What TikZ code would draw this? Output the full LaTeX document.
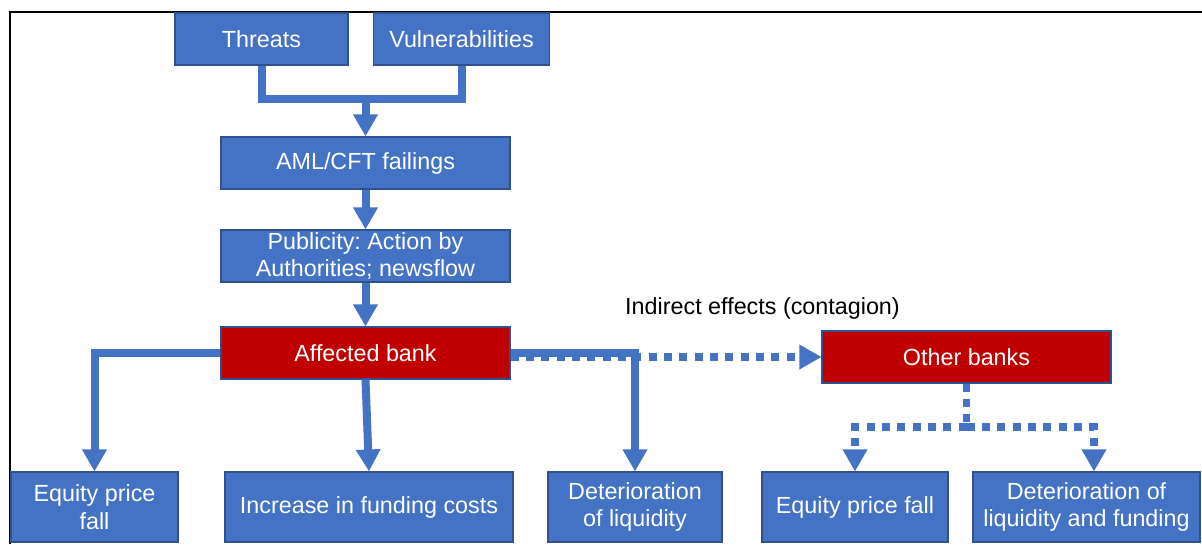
\documentclass[tikz,border=0pt]{standalone}
\usepackage{fontspec}
\setmainfont{Liberation Sans}
\usetikzlibrary{arrows.meta}

\definecolor{boxblue}{HTML}{4472C4}
\definecolor{boxred}{HTML}{C00000}
\definecolor{boxedge}{HTML}{2F528F}

\begin{document}
\frenchspacing
\begin{tikzpicture}[
    x=0.75pt, y=-0.75pt,
    every node/.style={font=\fontsize{17.5}{20.5}\selectfont},
    blueBox/.style={rectangle, draw=boxedge, line width=0.8pt, fill=boxblue, text=white, align=center, inner sep=0pt, minimum height=39pt},
    redBox/.style={blueBox, fill=boxred},
    lowBox/.style={blueBox, minimum height=52.5pt},
    pipe/.style={draw=boxblue, line width=6pt},
    arrow/.style={pipe, -{Triangle[length=16.5pt, width=17.5pt]}},
    dotarrow/.style={arrow, dash pattern=on 6pt off 5.5pt, line width=5.5pt},
    dotpipe/.style={pipe, dash pattern=on 6pt off 5.5pt, line width=5.5pt},
    label/.style={text=black}
]
    \useasboundingbox (0,0) rectangle (1202,544);

% -------------------------
% Frame
% -------------------------
    \draw[black, line width=1.5pt] (10,544) -- (10,12) -- (1202,12);

% -------------------------
% Nodes - Causes
% -------------------------
    \node[blueBox, minimum width=129.75pt] (thr) at (261.5,39) {Threats};
    \node[blueBox, minimum width=132pt] (vul) at (461.5,39) {Vulnerabilities};
    \node[blueBox, minimum width=216.75pt] (aml) at (365.5,163) {AML/CFT failings};
    \node[blueBox, minimum width=216.75pt] (pub) at (365.5,256) {Publicity: Action by\\Authorities; newsflow};

% -------------------------
% Nodes - Banks
% -------------------------
    \node[redBox, minimum width=216.75pt] (aff) at (365.5,353) {Affected bank};
    \node[redBox, minimum width=216.75pt] (oth) at (966.5,357) {Other banks};
    \node[label] (ind) at (762.5,308) {Indirect effects (contagion)};

% -------------------------
% Nodes - Effects
% -------------------------
    \node[lowBox, minimum width=125.25pt] (eq1) at (94.5,507) {Equity price\\fall};
    \node[lowBox, minimum width=216pt] (inc) at (369,507) {Increase in funding costs};
    \node[lowBox, minimum width=130.5pt] (liq) at (635,507) {Deterioration\\of liquidity};
    \node[lowBox, minimum width=139.5pt] (eq2) at (855,507) {Equity price fall};
    \node[lowBox, minimum width=170.25pt] (liqfund) at (1086.5,507) {Deterioration of\\liquidity and funding};

% -------------------------
% Arrows & Routing
% -------------------------
    % Threats and vulnerabilities join above AML/CFT
    \coordinate (join) at (365.5,99);
    \draw[pipe] (thr.south) |- (join) -| (vul.south);
    \draw[arrow] (join) -- (aml.north);
    \draw[arrow] (aml) -- (pub);
    \draw[arrow] (pub) -- (aff);

    % Contagion runs dotted to the other banks
    \draw[dotarrow] (aff.east |- oth.west) -- (oth.west);

    % Direct effects of the affected bank
    \draw[arrow] (aff.west) -| (eq1.north);
    \draw[arrow] (aff.south) -- (inc.north);
    \draw[arrow] (aff.east) -| (liq.north);

    % Other banks split in two
    \coordinate (split) at (966.5,427);
    \draw[dotpipe] (oth.south) -- (split);
    \draw[dotarrow] (split) -| (eq2.north);
    \draw[dotarrow] (split) -| ([xshift=5.6pt]liqfund.north);
\end{tikzpicture}
\end{document}
